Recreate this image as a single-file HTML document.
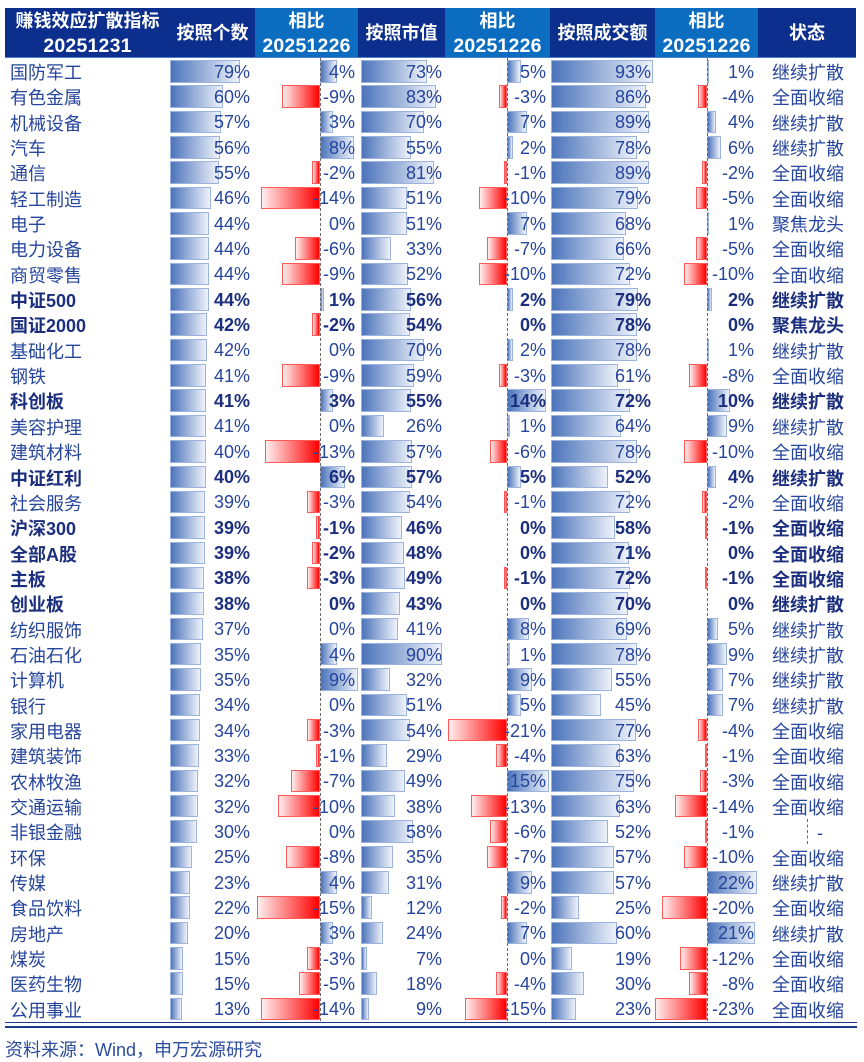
<!DOCTYPE html>
<html><head><meta charset="utf-8">
<style>
*{margin:0;padding:0;box-sizing:border-box}
html,body{width:864px;height:1062px;background:#fff;overflow:hidden}
body{position:relative;font-family:"Liberation Sans","Noto Sans CJK SC",sans-serif}
.h{position:absolute;top:8px;height:49px;color:#fff;font-weight:bold;font-size:18px;display:flex;flex-direction:column;align-items:center;justify-content:center;line-height:25px;padding-top:2px;text-align:center}
.h .d{font-size:19.5px;letter-spacing:0.2px}
.dk{background:#0c2e8c}
.lt{background:#0b6cc0}
.hl{position:absolute;left:5px;width:851px;top:57px;height:1px;background:#4d7fcf}
.t{position:absolute;left:0;top:58px;width:864px}
.r{position:relative;height:25.35px;font-size:18px;line-height:25.35px;color:#26459c}
.r.B{font-weight:bold;color:#1b2f7e}
.r span{position:absolute;top:1.6px;white-space:nowrap}
.r i{position:absolute;top:2px;height:22.5px;display:block}
.u{background:linear-gradient(to right,#4c74bb,#eef2fa);border:1px solid #9cb3dd}
.v{background:linear-gradient(to right,#ffeeee,#ff0000);border:1px solid #ff5a5a}
.ba{left:170px;width:calc(var(--w)*0.89px)}
.bc{left:361px;width:calc(var(--w)*0.9px)}
.be{left:551px;width:calc(var(--w)*1.1px)}
.pb{left:320px;width:calc(var(--w)*4.2px)}
.nb{left:calc(320px - var(--w)*4.2px);width:calc(var(--w)*4.2px)}
.pd{left:507px;width:calc(var(--w)*2.8px)}
.nd{left:calc(507px - var(--w)*2.8px);width:calc(var(--w)*2.8px)}
.pf{left:707px;width:calc(var(--w)*2.27px)}
.nf{left:calc(707px - var(--w)*2.27px);width:calc(var(--w)*2.27px)}
.r span.tn{left:10px;top:3px}
.r span.ts{left:772px;top:3px}
.ta{right:614px}.tb{right:509px}.tc{right:422px}.td{right:318px}.te{right:213px}.tf{right:110px}
.ax{position:absolute;top:58px;height:963px;width:0;border-left:1.5px dashed #6a6a6a}
.l1{position:absolute;left:5px;width:852px;top:1022px;height:1.2px;background:#1d3a8a}
.l2{position:absolute;left:5px;width:852px;top:1025.5px;height:2.6px;background:#1d3a8a}
.ft{position:absolute;left:5px;top:1037px;font-size:18px;line-height:26px;color:#2c4c9e}
</style></head><body>
<div class="h dk" style="left:5px;width:165px"><div>赚钱效应扩散指标</div><div class="d">20251231</div></div>
<div class="h dk" style="left:170px;width:85px">按照个数</div>
<div class="h lt" style="left:255px;width:103px"><div>相比</div><div class="d">20251226</div></div>
<div class="h dk" style="left:358px;width:87px">按照市值</div>
<div class="h lt" style="left:445px;width:105px"><div>相比</div><div class="d">20251226</div></div>
<div class="h dk" style="left:550px;width:105px">按照成交额</div>
<div class="h lt" style="left:655px;width:103px"><div>相比</div><div class="d">20251226</div></div>
<div class="h dk" style="left:758px;width:98px">状态</div>
<div class="hl"></div>

<div class="t">
<div class=r><i class="u ba" style=--w:79></i><i class="u pb" style=--w:4></i><i class="u bc" style=--w:73></i><i class="u pd" style=--w:5></i><i class="u be" style=--w:93></i><i class="u pf" style=--w:1></i><span class=tn>国防军工</span><span class=ta>79%</span><span class=tb>4%</span><span class=tc>73%</span><span class=td>5%</span><span class=te>93%</span><span class=tf>1%</span><span class=ts>继续扩散</span></div>
<div class=r><i class="u ba" style=--w:60></i><i class="v nb" style=--w:9></i><i class="u bc" style=--w:83></i><i class="v nd" style=--w:3></i><i class="u be" style=--w:86></i><i class="v nf" style=--w:4></i><span class=tn>有色金属</span><span class=ta>60%</span><span class=tb>-9%</span><span class=tc>83%</span><span class=td>-3%</span><span class=te>86%</span><span class=tf>-4%</span><span class=ts>全面收缩</span></div>
<div class=r><i class="u ba" style=--w:57></i><i class="u pb" style=--w:3></i><i class="u bc" style=--w:70></i><i class="u pd" style=--w:7></i><i class="u be" style=--w:89></i><i class="u pf" style=--w:4></i><span class=tn>机械设备</span><span class=ta>57%</span><span class=tb>3%</span><span class=tc>70%</span><span class=td>7%</span><span class=te>89%</span><span class=tf>4%</span><span class=ts>继续扩散</span></div>
<div class=r><i class="u ba" style=--w:56></i><i class="u pb" style=--w:8></i><i class="u bc" style=--w:55></i><i class="u pd" style=--w:2></i><i class="u be" style=--w:78></i><i class="u pf" style=--w:6></i><span class=tn>汽车</span><span class=ta>56%</span><span class=tb>8%</span><span class=tc>55%</span><span class=td>2%</span><span class=te>78%</span><span class=tf>6%</span><span class=ts>继续扩散</span></div>
<div class=r><i class="u ba" style=--w:55></i><i class="v nb" style=--w:2></i><i class="u bc" style=--w:81></i><i class="v nd" style=--w:1></i><i class="u be" style=--w:89></i><i class="v nf" style=--w:2></i><span class=tn>通信</span><span class=ta>55%</span><span class=tb>-2%</span><span class=tc>81%</span><span class=td>-1%</span><span class=te>89%</span><span class=tf>-2%</span><span class=ts>全面收缩</span></div>
<div class=r><i class="u ba" style=--w:46></i><i class="v nb" style=--w:14></i><i class="u bc" style=--w:51></i><i class="v nd" style=--w:10></i><i class="u be" style=--w:79></i><i class="v nf" style=--w:5></i><span class=tn>轻工制造</span><span class=ta>46%</span><span class=tb>-14%</span><span class=tc>51%</span><span class=td>-10%</span><span class=te>79%</span><span class=tf>-5%</span><span class=ts>全面收缩</span></div>
<div class=r><i class="u ba" style=--w:44></i><i class="u bc" style=--w:51></i><i class="u pd" style=--w:7></i><i class="u be" style=--w:68></i><i class="u pf" style=--w:1></i><span class=tn>电子</span><span class=ta>44%</span><span class=tb>0%</span><span class=tc>51%</span><span class=td>7%</span><span class=te>68%</span><span class=tf>1%</span><span class=ts>聚焦龙头</span></div>
<div class=r><i class="u ba" style=--w:44></i><i class="v nb" style=--w:6></i><i class="u bc" style=--w:33></i><i class="v nd" style=--w:7></i><i class="u be" style=--w:66></i><i class="v nf" style=--w:5></i><span class=tn>电力设备</span><span class=ta>44%</span><span class=tb>-6%</span><span class=tc>33%</span><span class=td>-7%</span><span class=te>66%</span><span class=tf>-5%</span><span class=ts>全面收缩</span></div>
<div class=r><i class="u ba" style=--w:44></i><i class="v nb" style=--w:9></i><i class="u bc" style=--w:52></i><i class="v nd" style=--w:10></i><i class="u be" style=--w:72></i><i class="v nf" style=--w:10></i><span class=tn>商贸零售</span><span class=ta>44%</span><span class=tb>-9%</span><span class=tc>52%</span><span class=td>-10%</span><span class=te>72%</span><span class=tf>-10%</span><span class=ts>全面收缩</span></div>
<div class="r B"><i class="u ba" style=--w:44></i><i class="u pb" style=--w:1></i><i class="u bc" style=--w:56></i><i class="u pd" style=--w:2></i><i class="u be" style=--w:79></i><i class="u pf" style=--w:2></i><span class=tn>中证500</span><span class=ta>44%</span><span class=tb>1%</span><span class=tc>56%</span><span class=td>2%</span><span class=te>79%</span><span class=tf>2%</span><span class=ts>继续扩散</span></div>
<div class="r B"><i class="u ba" style=--w:42></i><i class="v nb" style=--w:2></i><i class="u bc" style=--w:54></i><i class="u be" style=--w:78></i><span class=tn>国证2000</span><span class=ta>42%</span><span class=tb>-2%</span><span class=tc>54%</span><span class=td>0%</span><span class=te>78%</span><span class=tf>0%</span><span class=ts>聚焦龙头</span></div>
<div class=r><i class="u ba" style=--w:42></i><i class="u bc" style=--w:70></i><i class="u pd" style=--w:2></i><i class="u be" style=--w:78></i><i class="u pf" style=--w:1></i><span class=tn>基础化工</span><span class=ta>42%</span><span class=tb>0%</span><span class=tc>70%</span><span class=td>2%</span><span class=te>78%</span><span class=tf>1%</span><span class=ts>继续扩散</span></div>
<div class=r><i class="u ba" style=--w:41></i><i class="v nb" style=--w:9></i><i class="u bc" style=--w:59></i><i class="v nd" style=--w:3></i><i class="u be" style=--w:61></i><i class="v nf" style=--w:8></i><span class=tn>钢铁</span><span class=ta>41%</span><span class=tb>-9%</span><span class=tc>59%</span><span class=td>-3%</span><span class=te>61%</span><span class=tf>-8%</span><span class=ts>全面收缩</span></div>
<div class="r B"><i class="u ba" style=--w:41></i><i class="u pb" style=--w:3></i><i class="u bc" style=--w:55></i><i class="u pd" style=--w:14></i><i class="u be" style=--w:72></i><i class="u pf" style=--w:10></i><span class=tn>科创板</span><span class=ta>41%</span><span class=tb>3%</span><span class=tc>55%</span><span class=td>14%</span><span class=te>72%</span><span class=tf>10%</span><span class=ts>继续扩散</span></div>
<div class=r><i class="u ba" style=--w:41></i><i class="u bc" style=--w:26></i><i class="u pd" style=--w:1></i><i class="u be" style=--w:64></i><i class="u pf" style=--w:9></i><span class=tn>美容护理</span><span class=ta>41%</span><span class=tb>0%</span><span class=tc>26%</span><span class=td>1%</span><span class=te>64%</span><span class=tf>9%</span><span class=ts>继续扩散</span></div>
<div class=r><i class="u ba" style=--w:40></i><i class="v nb" style=--w:13></i><i class="u bc" style=--w:57></i><i class="v nd" style=--w:6></i><i class="u be" style=--w:78></i><i class="v nf" style=--w:10></i><span class=tn>建筑材料</span><span class=ta>40%</span><span class=tb>-13%</span><span class=tc>57%</span><span class=td>-6%</span><span class=te>78%</span><span class=tf>-10%</span><span class=ts>全面收缩</span></div>
<div class="r B"><i class="u ba" style=--w:40></i><i class="u pb" style=--w:6></i><i class="u bc" style=--w:57></i><i class="u pd" style=--w:5></i><i class="u be" style=--w:52></i><i class="u pf" style=--w:4></i><span class=tn>中证红利</span><span class=ta>40%</span><span class=tb>6%</span><span class=tc>57%</span><span class=td>5%</span><span class=te>52%</span><span class=tf>4%</span><span class=ts>继续扩散</span></div>
<div class=r><i class="u ba" style=--w:39></i><i class="v nb" style=--w:3></i><i class="u bc" style=--w:54></i><i class="v nd" style=--w:1></i><i class="u be" style=--w:72></i><i class="v nf" style=--w:2></i><span class=tn>社会服务</span><span class=ta>39%</span><span class=tb>-3%</span><span class=tc>54%</span><span class=td>-1%</span><span class=te>72%</span><span class=tf>-2%</span><span class=ts>全面收缩</span></div>
<div class="r B"><i class="u ba" style=--w:39></i><i class="v nb" style=--w:1></i><i class="u bc" style=--w:46></i><i class="u be" style=--w:58></i><i class="v nf" style=--w:1></i><span class=tn>沪深300</span><span class=ta>39%</span><span class=tb>-1%</span><span class=tc>46%</span><span class=td>0%</span><span class=te>58%</span><span class=tf>-1%</span><span class=ts>全面收缩</span></div>
<div class="r B"><i class="u ba" style=--w:39></i><i class="v nb" style=--w:2></i><i class="u bc" style=--w:48></i><i class="u be" style=--w:71></i><span class=tn>全部A股</span><span class=ta>39%</span><span class=tb>-2%</span><span class=tc>48%</span><span class=td>0%</span><span class=te>71%</span><span class=tf>0%</span><span class=ts>全面收缩</span></div>
<div class="r B"><i class="u ba" style=--w:38></i><i class="v nb" style=--w:3></i><i class="u bc" style=--w:49></i><i class="v nd" style=--w:1></i><i class="u be" style=--w:72></i><i class="v nf" style=--w:1></i><span class=tn>主板</span><span class=ta>38%</span><span class=tb>-3%</span><span class=tc>49%</span><span class=td>-1%</span><span class=te>72%</span><span class=tf>-1%</span><span class=ts>全面收缩</span></div>
<div class="r B"><i class="u ba" style=--w:38></i><i class="u bc" style=--w:43></i><i class="u be" style=--w:70></i><span class=tn>创业板</span><span class=ta>38%</span><span class=tb>0%</span><span class=tc>43%</span><span class=td>0%</span><span class=te>70%</span><span class=tf>0%</span><span class=ts>继续扩散</span></div>
<div class=r><i class="u ba" style=--w:37></i><i class="u bc" style=--w:41></i><i class="u pd" style=--w:8></i><i class="u be" style=--w:69></i><i class="u pf" style=--w:5></i><span class=tn>纺织服饰</span><span class=ta>37%</span><span class=tb>0%</span><span class=tc>41%</span><span class=td>8%</span><span class=te>69%</span><span class=tf>5%</span><span class=ts>继续扩散</span></div>
<div class=r><i class="u ba" style=--w:35></i><i class="u pb" style=--w:4></i><i class="u bc" style=--w:90></i><i class="u pd" style=--w:1></i><i class="u be" style=--w:78></i><i class="u pf" style=--w:9></i><span class=tn>石油石化</span><span class=ta>35%</span><span class=tb>4%</span><span class=tc>90%</span><span class=td>1%</span><span class=te>78%</span><span class=tf>9%</span><span class=ts>继续扩散</span></div>
<div class=r><i class="u ba" style=--w:35></i><i class="u pb" style=--w:9></i><i class="u bc" style=--w:32></i><i class="u pd" style=--w:9></i><i class="u be" style=--w:55></i><i class="u pf" style=--w:7></i><span class=tn>计算机</span><span class=ta>35%</span><span class=tb>9%</span><span class=tc>32%</span><span class=td>9%</span><span class=te>55%</span><span class=tf>7%</span><span class=ts>继续扩散</span></div>
<div class=r><i class="u ba" style=--w:34></i><i class="u bc" style=--w:51></i><i class="u pd" style=--w:5></i><i class="u be" style=--w:45></i><i class="u pf" style=--w:7></i><span class=tn>银行</span><span class=ta>34%</span><span class=tb>0%</span><span class=tc>51%</span><span class=td>5%</span><span class=te>45%</span><span class=tf>7%</span><span class=ts>继续扩散</span></div>
<div class=r><i class="u ba" style=--w:34></i><i class="v nb" style=--w:3></i><i class="u bc" style=--w:54></i><i class="v nd" style=--w:21></i><i class="u be" style=--w:77></i><i class="v nf" style=--w:4></i><span class=tn>家用电器</span><span class=ta>34%</span><span class=tb>-3%</span><span class=tc>54%</span><span class=td>-21%</span><span class=te>77%</span><span class=tf>-4%</span><span class=ts>全面收缩</span></div>
<div class=r><i class="u ba" style=--w:33></i><i class="v nb" style=--w:1></i><i class="u bc" style=--w:29></i><i class="v nd" style=--w:4></i><i class="u be" style=--w:63></i><i class="v nf" style=--w:1></i><span class=tn>建筑装饰</span><span class=ta>33%</span><span class=tb>-1%</span><span class=tc>29%</span><span class=td>-4%</span><span class=te>63%</span><span class=tf>-1%</span><span class=ts>全面收缩</span></div>
<div class=r><i class="u ba" style=--w:32></i><i class="v nb" style=--w:7></i><i class="u bc" style=--w:49></i><i class="u pd" style=--w:15></i><i class="u be" style=--w:75></i><i class="v nf" style=--w:3></i><span class=tn>农林牧渔</span><span class=ta>32%</span><span class=tb>-7%</span><span class=tc>49%</span><span class=td>15%</span><span class=te>75%</span><span class=tf>-3%</span><span class=ts>全面收缩</span></div>
<div class=r><i class="u ba" style=--w:32></i><i class="v nb" style=--w:10></i><i class="u bc" style=--w:38></i><i class="v nd" style=--w:13></i><i class="u be" style=--w:63></i><i class="v nf" style=--w:14></i><span class=tn>交通运输</span><span class=ta>32%</span><span class=tb>-10%</span><span class=tc>38%</span><span class=td>-13%</span><span class=te>63%</span><span class=tf>-14%</span><span class=ts>全面收缩</span></div>
<div class=r><i class="u ba" style=--w:30></i><i class="u bc" style=--w:58></i><i class="v nd" style=--w:6></i><i class="u be" style=--w:52></i><i class="v nf" style=--w:1></i><span class=tn>非银金融</span><span class=ta>30%</span><span class=tb>0%</span><span class=tc>58%</span><span class=td>-6%</span><span class=te>52%</span><span class=tf>-1%</span><span class=ts style="left:817px">-</span></div>
<div class=r><i class="u ba" style=--w:25></i><i class="v nb" style=--w:8></i><i class="u bc" style=--w:35></i><i class="v nd" style=--w:7></i><i class="u be" style=--w:57></i><i class="v nf" style=--w:10></i><span class=tn>环保</span><span class=ta>25%</span><span class=tb>-8%</span><span class=tc>35%</span><span class=td>-7%</span><span class=te>57%</span><span class=tf>-10%</span><span class=ts>全面收缩</span></div>
<div class=r><i class="u ba" style=--w:23></i><i class="u pb" style=--w:4></i><i class="u bc" style=--w:31></i><i class="u pd" style=--w:9></i><i class="u be" style=--w:57></i><i class="u pf" style=--w:22></i><span class=tn>传媒</span><span class=ta>23%</span><span class=tb>4%</span><span class=tc>31%</span><span class=td>9%</span><span class=te>57%</span><span class=tf>22%</span><span class=ts>继续扩散</span></div>
<div class=r><i class="u ba" style=--w:22></i><i class="v nb" style=--w:15></i><i class="u bc" style=--w:12></i><i class="v nd" style=--w:2></i><i class="u be" style=--w:25></i><i class="v nf" style=--w:20></i><span class=tn>食品饮料</span><span class=ta>22%</span><span class=tb>-15%</span><span class=tc>12%</span><span class=td>-2%</span><span class=te>25%</span><span class=tf>-20%</span><span class=ts>全面收缩</span></div>
<div class=r><i class="u ba" style=--w:20></i><i class="u pb" style=--w:3></i><i class="u bc" style=--w:24></i><i class="u pd" style=--w:7></i><i class="u be" style=--w:60></i><i class="u pf" style=--w:21></i><span class=tn>房地产</span><span class=ta>20%</span><span class=tb>3%</span><span class=tc>24%</span><span class=td>7%</span><span class=te>60%</span><span class=tf>21%</span><span class=ts>继续扩散</span></div>
<div class=r><i class="u ba" style=--w:15></i><i class="v nb" style=--w:3></i><i class="u bc" style=--w:7></i><i class="u be" style=--w:19></i><i class="v nf" style=--w:12></i><span class=tn>煤炭</span><span class=ta>15%</span><span class=tb>-3%</span><span class=tc>7%</span><span class=td>0%</span><span class=te>19%</span><span class=tf>-12%</span><span class=ts>全面收缩</span></div>
<div class=r><i class="u ba" style=--w:15></i><i class="v nb" style=--w:5></i><i class="u bc" style=--w:18></i><i class="v nd" style=--w:4></i><i class="u be" style=--w:30></i><i class="v nf" style=--w:8></i><span class=tn>医药生物</span><span class=ta>15%</span><span class=tb>-5%</span><span class=tc>18%</span><span class=td>-4%</span><span class=te>30%</span><span class=tf>-8%</span><span class=ts>全面收缩</span></div>
<div class=r><i class="u ba" style=--w:13></i><i class="v nb" style=--w:14></i><i class="u bc" style=--w:9></i><i class="v nd" style=--w:15></i><i class="u be" style=--w:23></i><i class="v nf" style=--w:23></i><span class=tn>公用事业</span><span class=ta>13%</span><span class=tb>-14%</span><span class=tc>9%</span><span class=td>-15%</span><span class=te>23%</span><span class=tf>-23%</span><span class=ts>全面收缩</span></div>
</div>

<div class="ax" style="left:319.5px"></div>
<div class="ax" style="left:506.5px"></div>
<div class="ax" style="left:706.5px"></div>
<div class="ax" style="left:806.5px;top:819px;height:25px"></div>

<div class="l1"></div>
<div class="l2"></div>
<div class="ft">资料来源：Wind，申万宏源研究</div>
</body></html>
